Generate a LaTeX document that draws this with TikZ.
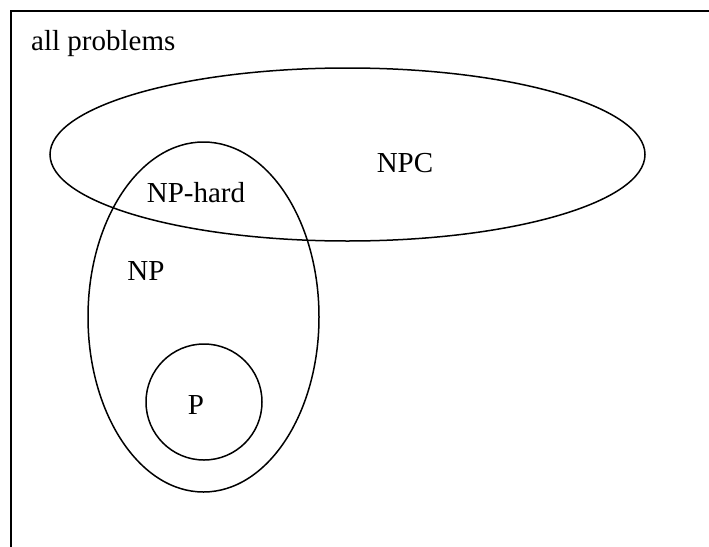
\documentclass[tikz,border=0pt]{standalone}
\usepackage{fontspec}
\setmainfont{Liberation Serif}
\usetikzlibrary{shapes.geometric}
\begin{document}
\begin{tikzpicture}[x=1pt,y=-1pt,
  setline/.style={draw=black, line width=1.5pt, ellipse, inner sep=0pt},
  setlabel/.style={font=\fontsize{29}{35}\selectfont, inner sep=0pt, anchor=base}]
\useasboundingbox (0,0) rectangle (709,546);
\fill[white] (0,0) rectangle (709,546);
\begin{scope}
  \clip (0,0) rectangle (709,546);
  % frame of the universe of problems (runs past the page edges)
  \draw[line width=1.8pt] (11,600) -- (11,11) -- (760,11);
\end{scope}
% the sets
\node[setline, minimum width=595pt, minimum height=173pt] (npcset) at (347.5,154.5) {};
\node[setline, minimum width=231pt, minimum height=350pt] (npset) at (203.5,317) {};
\node[setline, circle, minimum size=116pt] (pset) at (204,402) {};
% labels
\node[setlabel, anchor=base west] (alllbl) at (31,50) {all problems};
\node[setlabel] (npclbl) at (405,172) {NPC};
\node[setlabel] (nphardlbl) at (196,202) {NP-hard};
\node[setlabel] (nplbl) at (146,280) {NP};
\node[setlabel] (plbl) at (196,414) {P};
\end{tikzpicture}
\end{document}
